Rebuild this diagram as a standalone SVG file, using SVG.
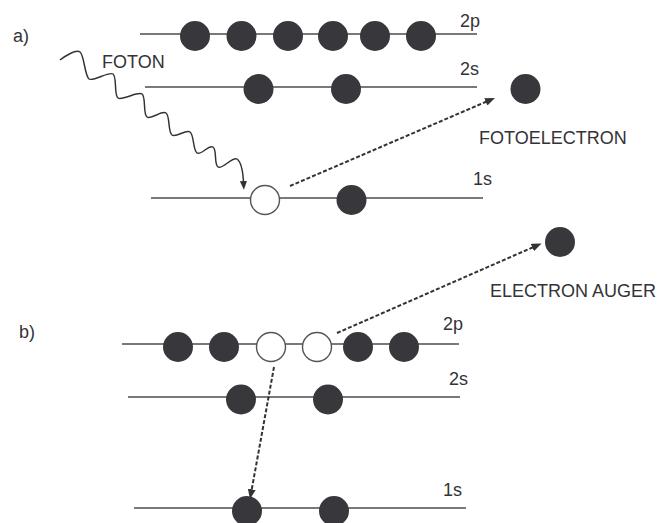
<svg xmlns="http://www.w3.org/2000/svg" width="662" height="523" viewBox="0 0 662 523">
<style>
.lvl{stroke:#4d4d4f;stroke-width:1.5;fill:none}
.e{fill:#38383c}
.h{fill:#fff;stroke:#555;stroke-width:1.4}
.t{font-family:"Liberation Sans",Arial,sans-serif;font-size:18px;fill:#333338}
.dash{stroke:#333;stroke-width:2;stroke-dasharray:4 2;fill:none}
.wave{stroke:#333;stroke-width:1.5;fill:none}
</style>
<defs>
<marker id="ah" viewBox="0 -4 10 8" refX="1" refY="0" markerWidth="10" markerHeight="8" markerUnits="userSpaceOnUse" orient="auto">
<path d="M0,-4 L10,0 L0,4 z" fill="#333"/>
</marker>
<marker id="ahw" viewBox="0 -4 10 8" refX="1" refY="0" markerWidth="9" markerHeight="7" markerUnits="userSpaceOnUse" orient="auto">
<path d="M0,-4 L10,0 L0,4 z" fill="#333"/>
</marker>
</defs>
<g id="labels">
<text class="t" x="13" y="42">a)</text>
<text class="t" x="19" y="338">b)</text>
</g>
<g id="a-2p">
<line class="lvl" x1="140" y1="34" x2="477" y2="34"/>
<circle class="e" cx="195" cy="36" r="15"/>
<circle class="e" cx="241.5" cy="36" r="15"/>
<circle class="e" cx="288" cy="36" r="15"/>
<circle class="e" cx="333" cy="36" r="15"/>
<circle class="e" cx="375" cy="36" r="15"/>
<circle class="e" cx="421" cy="36" r="15"/>
<text class="t" x="460" y="27">2p</text>
</g>
<g id="a-2s">
<line class="lvl" x1="145" y1="87" x2="477" y2="87"/>
<circle class="e" cx="258.5" cy="89" r="15"/>
<circle class="e" cx="346" cy="89" r="15"/>
<text class="t" x="460" y="75">2s</text>
</g>
<g id="a-1s">
<line class="lvl" x1="151" y1="198" x2="483" y2="198"/>
<circle class="h" cx="265" cy="200" r="14.5"/>
<circle class="e" cx="351.5" cy="200" r="15"/>
<text class="t" x="473" y="185">1s</text>
</g>
<g id="a-foton">
<text class="t" x="102" y="68">FOTON</text>
</g>
<g id="a-fotoelectron">
<circle class="e" cx="525.5" cy="89" r="15"/>
<text class="t" x="479" y="144">FOTOELECTRON</text>
</g>
<g id="b-2p">
<line class="lvl" x1="122" y1="344" x2="459" y2="344"/>
<circle class="e" cx="178" cy="347" r="15"/>
<circle class="e" cx="224" cy="347" r="15"/>
<circle class="h" cx="271" cy="347" r="14.5"/>
<circle class="h" cx="317" cy="347" r="14.5"/>
<circle class="e" cx="358" cy="347" r="15"/>
<circle class="e" cx="404" cy="347" r="15"/>
<text class="t" x="443" y="330">2p</text>
</g>
<g id="b-2s">
<line class="lvl" x1="128" y1="397" x2="460" y2="397"/>
<circle class="e" cx="241" cy="399.5" r="15"/>
<circle class="e" cx="328" cy="399.5" r="15"/>
<text class="t" x="449" y="385">2s</text>
</g>
<g id="b-1s">
<line class="lvl" x1="134" y1="508" x2="466" y2="508"/>
<circle class="e" cx="247" cy="511" r="15"/>
<circle class="e" cx="334" cy="511" r="15"/>
<text class="t" x="443" y="496">1s</text>
</g>
<g id="b-auger">
<circle class="e" cx="560" cy="242" r="15"/>
<text class="t" x="490" y="297">ELECTRON AUGER</text>
</g>
<g id="connectors">
<path class="wave" marker-end="url(#ahw)" d="M60,60 C65,56 75.8,49.2 80,52 C84.2,54.8 84.8,76.2 89,79 C93.2,81.8 108.8,71.2 113,74 C117.2,76.8 113.8,95.2 118,98 C122.2,100.8 137.8,91.2 142,94 C146.2,96.8 142.8,114.2 147,117 C151.2,119.8 161.8,110.2 166,113 C170.2,115.8 167.8,132.2 172,135 C176.2,137.8 185.8,129.2 190,132 C194.2,134.8 192.8,150.2 197,153 C201.2,155.8 208.8,144.2 213,147 C217.2,149.8 213.8,164.2 218,167 C222.2,169.8 232.8,156.2 237,159 C242,162.5 243,173 243.5,182"/>
<line class="dash" marker-end="url(#ah)" x1="290" y1="186" x2="486.7" y2="101.5"/>
<line class="dash" marker-end="url(#ah)" x1="337" y1="333" x2="533.3" y2="247.1"/>
<line class="dash" marker-end="url(#ah)" x1="274" y1="367" x2="251.6" y2="490.2"/>
</g>
</svg>
